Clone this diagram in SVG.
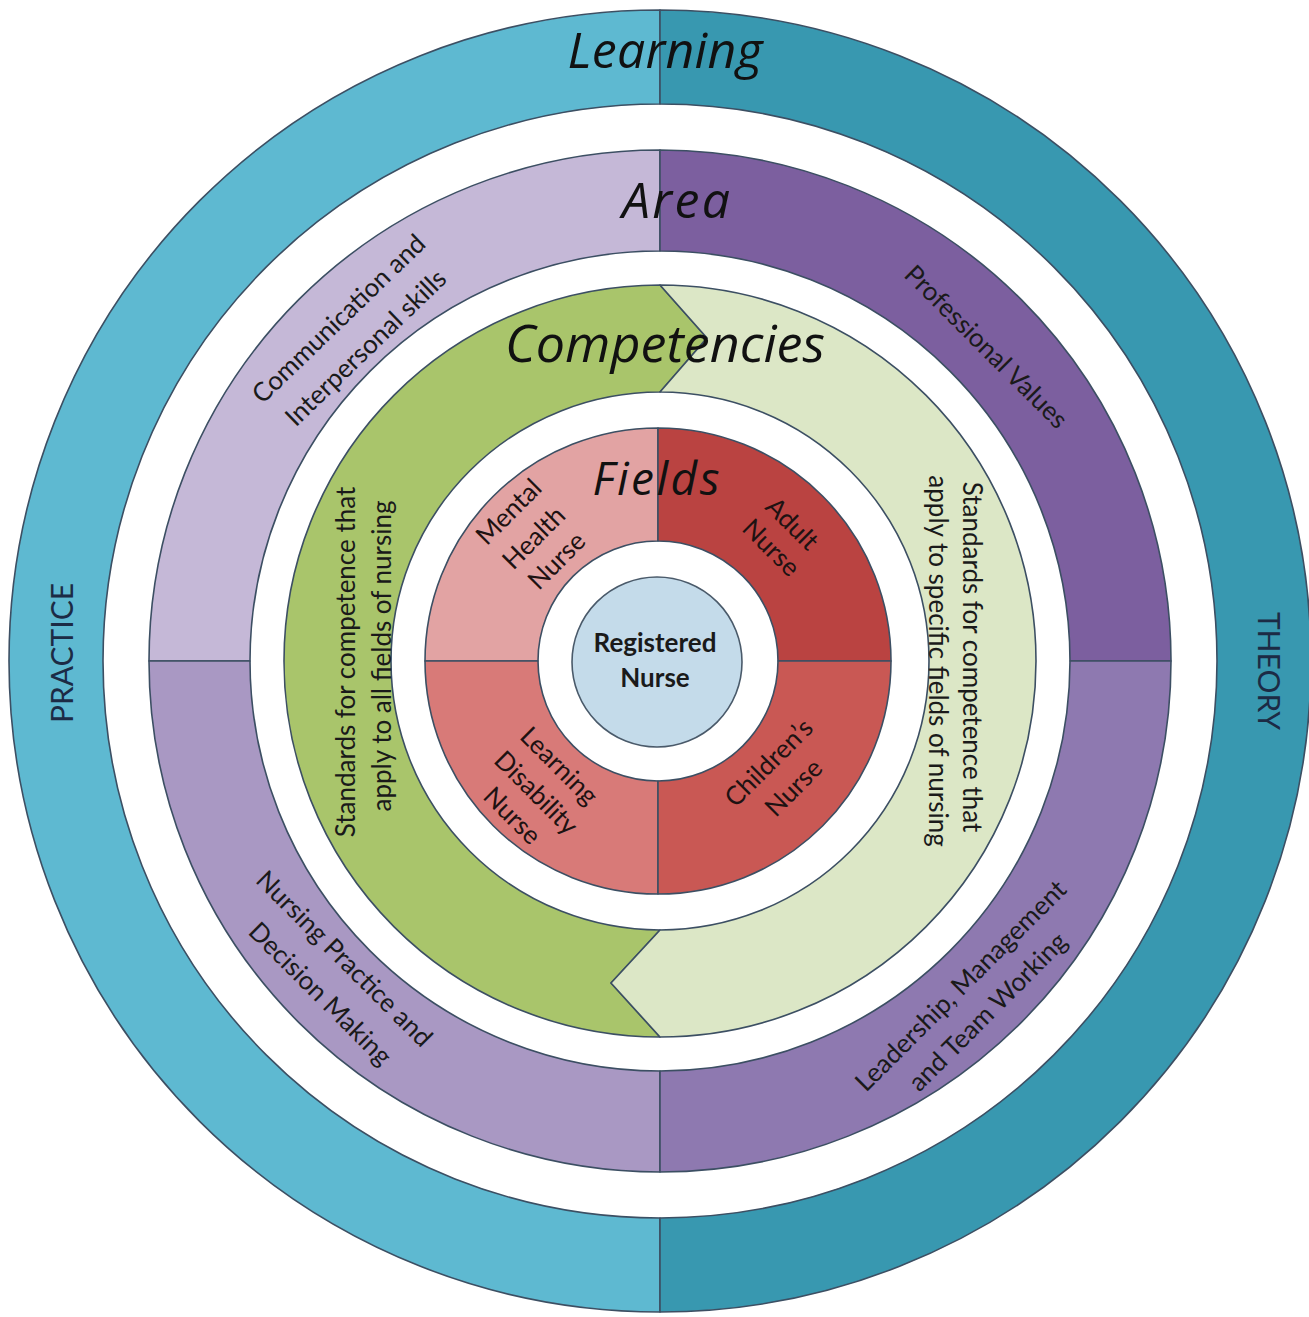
<svg xmlns="http://www.w3.org/2000/svg" width="1309" height="1317" viewBox="0 0 1309 1317">
  <defs>
    <style>
      .seg { stroke: #3c4f63; stroke-width: 1.6; stroke-linejoin: round; }
      .title { font-family: "Open Sans", Lato, sans-serif; font-style: italic; fill: #111; text-anchor: middle; }
      .side { font-family: Lato, "Open Sans", sans-serif; font-size: 30px; fill: #1c2b45; text-anchor: middle; dominant-baseline: central; }
      .body { font-family: Lato, "Open Sans", sans-serif; font-size: 26px; fill: #1a1a1a; text-anchor: middle; dominant-baseline: central; }
      .field { font-family: Lato, "Open Sans", sans-serif; font-size: 26px; fill: #1e1212; text-anchor: middle; dominant-baseline: central; }
      .core { font-family: Lato, "Open Sans", sans-serif; font-size: 26px; font-weight: bold; fill: #1a1a1a; text-anchor: middle; }
    </style>
  </defs>
  <rect width="1309" height="1317" fill="#ffffff"/>

  <!-- Learning ring -->
  <g id="learning-ring">
    <g id="practice">
      <path class="seg" fill="#5eb9d1" d="M 660,10 A 651 651 0 0 0 9,661 A 651 651 0 0 0 660,1312 L 660,1218 A 557 557 0 0 1 103,661 A 557 557 0 0 1 660,104 Z"/>
      <text class="side" transform="translate(61,653) rotate(-90)">PRACTICE</text>
    </g>
    <g id="theory">
      <path class="seg" fill="#3898b0" d="M 660,10 A 651 651 0 0 1 1311,661 A 651 651 0 0 1 660,1312 L 660,1218 A 557 557 0 0 0 1217,661 A 557 557 0 0 0 660,104 Z"/>
      <text class="side" transform="translate(1270,671) rotate(90)">THEORY</text>
    </g>
    <text class="title" x="665" y="68" font-size="50" textLength="195">Learning</text>
  </g>

  <!-- Area ring -->
  <g id="area-ring">
    <g id="communication">
      <path class="seg" fill="#c5b8d7" d="M 660,150 A 511 511 0 0 0 149,661 L 250,661 A 410 410 0 0 1 660,251 Z"/>
      <text class="body" transform="translate(338,318) rotate(-44)">Communication and</text>
      <text class="body" transform="translate(365,347) rotate(-44)">Interpersonal skills</text>
    </g>
    <g id="professional-values">
      <path class="seg" fill="#7c5f9f" d="M 660,150 A 511 511 0 0 1 1171,661 L 1070,661 A 410 410 0 0 0 660,251 Z"/>
      <text class="body" transform="translate(987,346) rotate(45)">Professional Values</text>
    </g>
    <g id="nursing-practice">
      <path class="seg" fill="#a998c3" d="M 149,661 A 511 511 0 0 0 660,1172 L 660,1071 A 410 410 0 0 1 250,661 Z"/>
      <text class="body" transform="translate(345,958) rotate(45)">Nursing Practice and</text>
      <text class="body" transform="translate(321,993) rotate(45)">Decision Making</text>
    </g>
    <g id="leadership">
      <path class="seg" fill="#8e79b0" d="M 1171,661 A 511 511 0 0 1 660,1172 L 660,1071 A 410 410 0 0 0 1070,661 Z"/>
      <text class="body" transform="translate(960,985) rotate(-45)">Leadership, Management</text>
      <text class="body" transform="translate(987,1011) rotate(-45)">and Team Working</text>
    </g>
    <text class="title" x="676" y="218" font-size="50" textLength="108">Area</text>
  </g>

  <!-- Competencies ring -->
  <g id="competencies-ring">
    <g id="all-fields">
      <path class="seg" fill="#a9c56b" d="M 660,285 L 707,338 L 660,392 A 269 269 0 0 0 391,661 A 269 269 0 0 0 660,930 L 611,983 L 660,1037 A 376 376 0 0 1 284,661 A 376 376 0 0 1 660,285 Z"/>
      <text class="body" transform="translate(345,662) rotate(-90)">Standards for competence that</text>
      <text class="body" transform="translate(381,656) rotate(-90)">apply to all fields of nursing</text>
    </g>
    <g id="specific-fields">
      <path class="seg" fill="#dce7c6" d="M 660,285 A 376 376 0 0 1 1036,661 A 376 376 0 0 1 660,1037 L 611,983 L 660,930 A 269 269 0 0 0 929,661 A 269 269 0 0 0 660,392 L 707,338 Z"/>
      <text class="body" transform="translate(973,657) rotate(90)">Standards for competence that</text>
      <text class="body" transform="translate(939,661) rotate(90)">apply to specific fields of nursing</text>
    </g>
    <text class="title" x="665" y="362" font-size="52" textLength="320">Competencies</text>
  </g>

  <!-- Fields ring -->
  <g id="fields-ring">
    <g id="mental-health">
      <path class="seg" fill="#e2a3a3" d="M 658,428 A 233 233 0 0 0 425,661 L 538,661 A 120 120 0 0 1 658,541 Z"/>
      <text class="field" transform="translate(508,511) rotate(-45)">Mental</text>
      <text class="field" transform="translate(533,537) rotate(-45)">Health</text>
      <text class="field" transform="translate(556,560) rotate(-45)">Nurse</text>
    </g>
    <g id="adult">
      <path class="seg" fill="#ba4341" d="M 658,428 A 233 233 0 0 1 891,661 L 778,661 A 120 120 0 0 0 658,541 Z"/>
      <text class="field" transform="translate(793,523) rotate(45)">Adult</text>
      <text class="field" transform="translate(772,547) rotate(45)">Nurse</text>
    </g>
    <g id="learning-disability">
      <path class="seg" fill="#d87a78" d="M 425,661 A 233 233 0 0 0 658,894 L 658,781 A 120 120 0 0 1 538,661 Z"/>
      <text class="field" transform="translate(560,765) rotate(45)">Learning</text>
      <text class="field" transform="translate(537,792) rotate(45)">Disability</text>
      <text class="field" transform="translate(513,815) rotate(45)">Nurse</text>
    </g>
    <g id="children">
      <path class="seg" fill="#c95854" d="M 891,661 A 233 233 0 0 1 658,894 L 658,781 A 120 120 0 0 0 778,661 Z"/>
      <text class="field" transform="translate(768,762) rotate(-45)">Children’s</text>
      <text class="field" transform="translate(793,787) rotate(-45)">Nurse</text>
    </g>
    <text class="title" x="656" y="495" font-size="46" textLength="127">Fields</text>
  </g>

  <!-- Centre -->
  <g id="registered-nurse">
    <circle cx="657" cy="662" r="85" fill="#c4dbea" stroke="#4a5a6a" stroke-width="1.6"/>
    <text class="core" x="655" y="652">Registered</text>
    <text class="core" x="655" y="687">Nurse</text>
  </g>
</svg>
